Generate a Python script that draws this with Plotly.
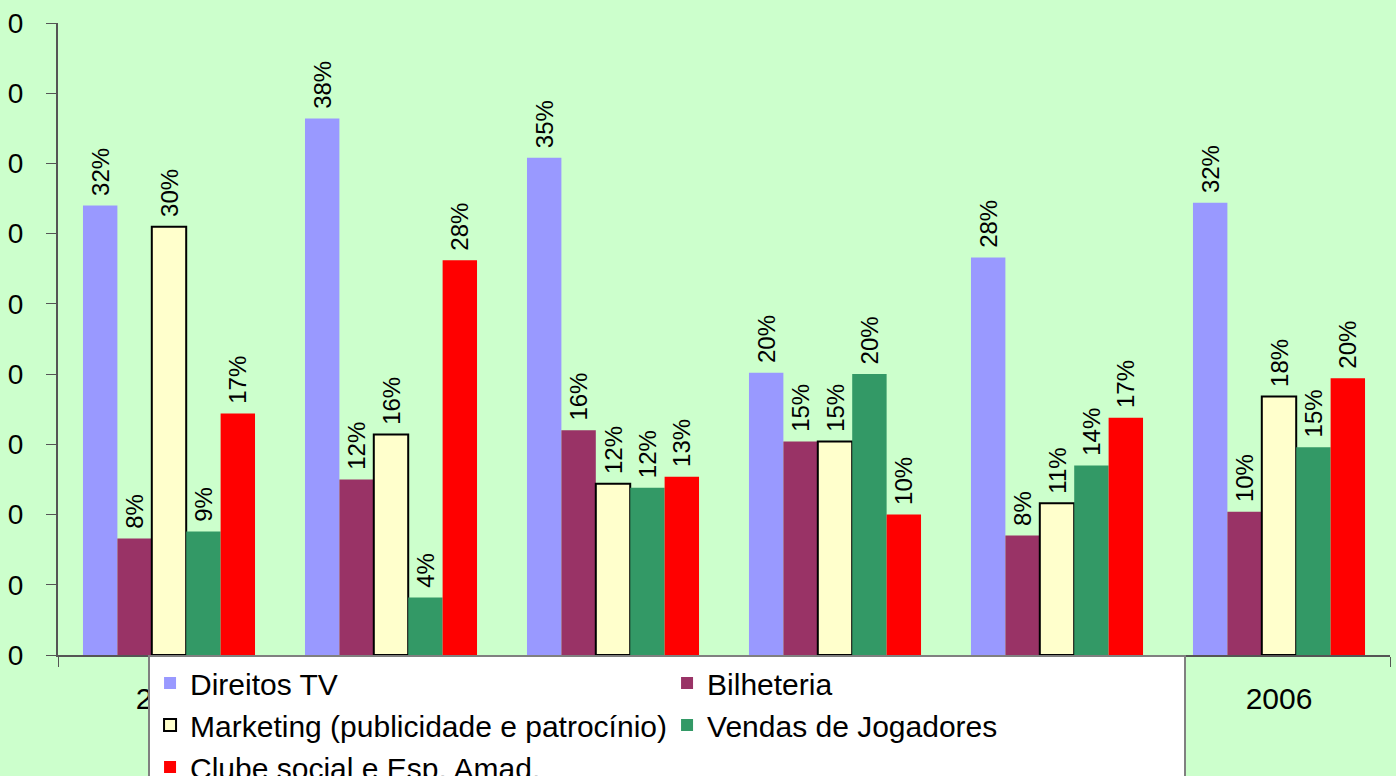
import plotly.graph_objects as go

years = ["2001", "2002", "2003", "2004", "2005", "2006"]
series_names = ["Direitos TV", "Bilheteria", "Marketing (publicidade e patrocínio)",
                "Vendas de Jogadores", "Clube social e Esp. Amad."]
direitos_tv = [32.0, 38.2, 35.4, 20.1, 28.3, 32.2]
bilheteria = [8.3, 12.5, 16.0, 15.2, 8.5, 10.2]
marketing = [30.5, 15.7, 12.2, 15.2, 10.8, 18.4]
vendas = [8.8, 4.1, 11.9, 20.0, 13.5, 14.8]
clube = [17.2, 28.1, 12.7, 10.0, 16.9, 19.7]
y_tick_vals = [0, 5, 10, 15, 20, 25, 30, 35, 40, 45]
y_tick_text = ["0"] * 10

colors = ["#9999FF", "#993366", "#FFFFCC", "#339966", "#FF0000"]
all_series = [direitos_tv, bilheteria, marketing, vendas, clube]

FONT = "Liberation Sans, Arial, sans-serif"
fig = go.Figure()
for name, vals, col in zip(series_names, all_series, colors):
    outline = dict(color="black", width=2) if name.startswith("Marketing") else dict(width=0)
    fig.add_trace(go.Bar(
        x=years, y=vals, name=name,
        marker=dict(color=col, line=outline),
        text=[f" {round(v)}%" for v in vals],
        textposition="outside", textangle=-90,
        textfont=dict(size=24, color="black", family=FONT),
        constraintext="none", cliponaxis=False,
    ))

fig.update_layout(
    width=1396, height=776,
    barmode="group", bargap=0.225, bargroupgap=0,
    paper_bgcolor="#CCFFCC", plot_bgcolor="#CCFFCC",
    margin=dict(l=58, r=6, t=23, b=121, autoexpand=False),
    font=dict(family=FONT, size=28, color="black"),
    showlegend=True,
    legend=dict(
        orientation="h", x=0.0676, xanchor="left", y=0, yanchor="top",
        bgcolor="white", bordercolor="#808080", borderwidth=2,
        entrywidth=472, entrywidthmode="pixels",
        font=dict(size=30, family=FONT, color="black"),
        traceorder="normal", tracegroupgap=0, itemsizing="constant",
    ),
)
fig.update_xaxes(
    automargin=False,
    showline=True, linecolor="#555555", linewidth=2,
    ticks="outside", tickson="boundaries", ticklen=10, tickcolor="#555555", tickwidth=1,
    tickfont=dict(size=30, family=FONT, color="black"),
    ticklabelstandoff=16, showgrid=False,
)
fig.update_yaxes(
    automargin=False,
    range=[0, 45], tickvals=y_tick_vals, ticktext=y_tick_text,
    showline=True, linecolor="#555555", linewidth=2,
    ticks="outside", ticklen=10, tickcolor="#555555", tickwidth=1,
    tickfont=dict(size=28, family=FONT, color="black"),
    ticklabelstandoff=17, showgrid=False, zeroline=False,
)

fig.write_html("out.html", config={"displayModeBar": False},
               post_script="document.body.style.margin='0';")
